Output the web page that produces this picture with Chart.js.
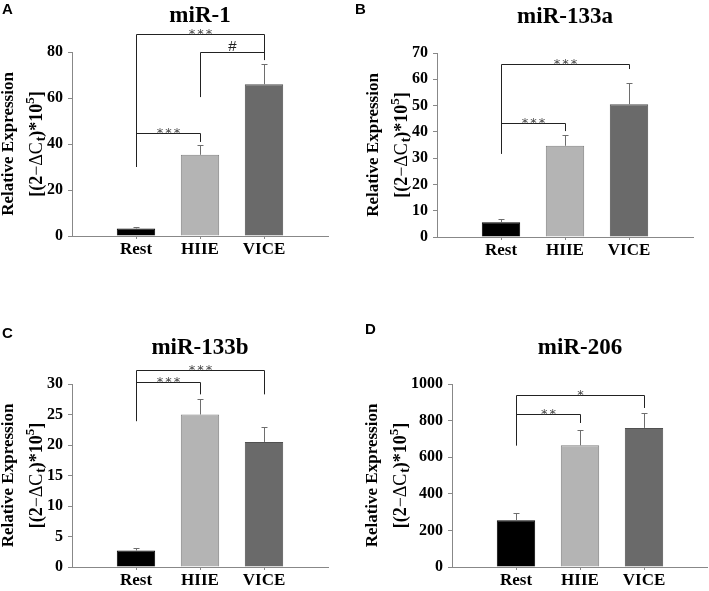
<!DOCTYPE html>
<html lang="en">
<head>
<meta charset="UTF-8">
<title>miRNA relative expression</title>
<script src="https://cdn.jsdelivr.net/npm/chart.js"></script>
<style>
  body { margin: 0; background: #fff; }
  #figure { position: relative; width: 709px; height: 591px; }
  .panel { position: absolute; width: 354px; height: 295px; }
</style>
</head>
<body>
<div id="figure">
  <div class="panel" style="left:0;top:0"><canvas id="chartA" width="354" height="295"></canvas></div>
  <div class="panel" style="left:354px;top:0"><canvas id="chartB" width="354" height="295"></canvas></div>
  <div class="panel" style="left:0;top:296px"><canvas id="chartC" width="354" height="295"></canvas></div>
  <div class="panel" style="left:354px;top:296px"><canvas id="chartD" width="354" height="295"></canvas></div>
</div>
<script>
// groups on the x axis (placed at 1, 2, 3 on a 0..4 axis)
const groups = ['Rest', 'HIIE', 'VICE'];
const groupPos = [1, 2, 3];

// mean and SEM
const mir1Mean = [3.3, 35.3, 66.0];
const mir1Sem = [0.8, 4.2, 8.6];
const mir133aMean = [5.6, 34.7, 50.5];
const mir133aSem = [1.1, 4.0, 8.0];
const mir133bMean = [2.7, 25.0, 20.5];
const mir133bSem = [0.4, 2.6, 2.4];
const mir206Mean = [255, 665, 760];
const mir206Sem = [38, 81, 79];

// y axis ticks
const mir1Ticks = [0, 20, 40, 60, 80];
const mir133aTicks = [0, 10, 20, 30, 40, 50, 60, 70];
const mir133bTicks = [0, 5, 10, 15, 20, 25, 30];
const mir206Ticks = [0, 200, 400, 600, 800, 1000];

// significance brackets: [from group, to group, top, from-leg bottom, to-leg bottom, mark]
const mir1Sig = [[0, 2, 87.8, 30, 76.5, '***'], [1, 2, 80, 60.4, 76.5, '#'], [0, 1, 44.8, 44.8, 40.9, '***']];
const mir133aSig = [[0, 2, 65.8, 31.6, 63.9, '***'], [0, 1, 43.5, 43.5, 40.3, '***']];
const mir133bSig = [[0, 2, 32.3, 23.9, 28.3, '***'], [0, 1, 30.4, 30.4, 28.3, '***']];
const mir206Sig = [[0, 2, 938, 663, 869, '*'], [0, 1, 836, 836, 787, '**']];

const barFill = ['#000000', '#b4b4b4', '#6a6a6a'];
const barEdge = ['#000000', '#808080', '#505050'];
const serif = '"Liberation Serif", "Times New Roman", serif';

// error bars, brackets, titles and the y axis title
const decor = {
  id: 'decor',
  afterDatasetsDraw(chart, args, o) {
    const ctx = chart.ctx, ys = chart.scales.y;
    const meta = chart.getDatasetMeta(0);
    ctx.save();
    ctx.strokeStyle = '#6e6e6e';
    ctx.lineWidth = 1;
    meta.data.forEach((bar, i) => {
      const x = Math.round(bar.x) + 0.5;
      const top = Math.round(ys.getPixelForValue(o.mean[i] + o.sem[i])) + 0.5;
      ctx.beginPath();
      ctx.moveTo(x, bar.y);
      ctx.lineTo(x, top);
      ctx.moveTo(x - 3, top);
      ctx.lineTo(x + 3, top);
      ctx.stroke();
    });
    ctx.restore();
  },
  afterDraw(chart, args, o) {
    const ctx = chart.ctx, xs = chart.scales.x, ys = chart.scales.y;
    const area = chart.chartArea;
    ctx.save();
    // brackets
    ctx.strokeStyle = '#222';
    ctx.lineWidth = 1;
    o.sig.forEach(s => {
      const x1 = Math.round(xs.getPixelForValue(groupPos[s[0]])) + 0.5;
      const x2 = Math.round(xs.getPixelForValue(groupPos[s[1]])) + 0.5;
      const yt = Math.round(ys.getPixelForValue(s[2])) + 0.5;
      ctx.beginPath();
      ctx.moveTo(x1, ys.getPixelForValue(s[3]));
      ctx.lineTo(x1, yt);
      ctx.lineTo(x2, yt);
      ctx.lineTo(x2, ys.getPixelForValue(s[4]));
      ctx.stroke();
      ctx.textAlign = 'center';
      ctx.textBaseline = 'alphabetic';
      const mid = (x1 + x2) / 2;
      if (s[5] === '#') {
        ctx.fillStyle = '#222';
        ctx.font = '15px "Liberation Sans", Arial, sans-serif';
        ctx.fillText(s[5], mid, yt - 1.5);
      } else {
        // asterisks drawn one by one, a little apart
        ctx.fillStyle = '#444';
        ctx.font = '13px "DejaVu Sans", sans-serif';
        const n = s[5].length;
        for (let k = 0; k < n; k++) {
          ctx.fillText('*', mid + (k - (n - 1) / 2) * 8.5, yt + 3);
        }
      }
    });
    // panel letter
    ctx.fillStyle = '#000';
    ctx.textAlign = 'left';
    ctx.font = 'bold 15px "Liberation Sans", Arial, sans-serif';
    ctx.fillText(o.letter, o.letterX, o.letterY);
    // panel title
    ctx.textAlign = 'center';
    ctx.font = 'bold 23px ' + serif;
    ctx.fillText(o.title, (area.left + area.right) / 2, area.top - 30);
    // y axis title, two rotated lines
    ctx.font = 'bold 16px ' + serif;
    let widest = 0;
    ys.ticks.forEach(t => { widest = Math.max(widest, ctx.measureText(String(t.value)).width); });
    const x2 = area.left - 9 - widest - 10;
    const x1 = x2 - 28.5;
    const cy = (area.top + area.bottom) / 2;
    ctx.font = 'bold 17px ' + serif;
    ctx.save();
    ctx.translate(x1, cy);
    ctx.rotate(-Math.PI / 2);
    ctx.textBaseline = 'middle';
    ctx.fillText('Relative Expression', 0, 0);
    ctx.restore();
    // second line with subscript t and superscript 5
    const parts = [['[(2', 18, 0], ['−ΔC', 18, 0], ['t', 14, 4], [')*10', 18, 0], ['5', 13, -6], [']', 18, 0]];
    let total = 0;
    parts.forEach(p => { ctx.font = 'bold ' + p[1] + 'px ' + serif; p.push(ctx.measureText(p[0]).width); total += p[3]; });
    ctx.save();
    ctx.translate(x2, cy);
    ctx.rotate(-Math.PI / 2);
    ctx.textAlign = 'left';
    ctx.textBaseline = 'middle';
    let px = -total / 2;
    parts.forEach(p => {
      ctx.font = (p[0] === '−ΔC' ? '' : 'bold ') + p[1] + 'px ' + serif;
      ctx.fillText(p[0], px, p[2]);
      px += p[3];
    });
    ctx.restore();
    ctx.restore();
  }
};

function makePanel(id, mean, sem, ticks, sig, title, letter, box) {
  const plotW = 256;
  return new Chart(document.getElementById(id), {
    type: 'bar',
    data: {
      datasets: [{
        data: groupPos.map((x, i) => ({ x: x, y: mean[i] })),
        backgroundColor: barFill,
        borderColor: barEdge,
        borderWidth: 1,
        barPercentage: 0.6,
        categoryPercentage: 1
      }]
    },
    options: {
      responsive: false,
      animation: false,
      layout: {
        padding: { left: 0, top: box.top, right: 354 - box.left - plotW, bottom: 295 - box.top - box.height - 20 }
      },
      scales: {
        x: {
          type: 'linear',
          min: 0,
          max: 4,
          offset: false,
          afterFit: s => { s.height = 20; },
          afterBuildTicks: s => { s.ticks = groupPos.map(v => ({ value: v })); },
          grid: { drawOnChartArea: false, offset: false, tickLength: 3, color: '#888' },
          border: { color: '#888' },
          ticks: {
            autoSkip: false,
            maxRotation: 0,
            padding: 0,
            color: '#000',
            font: { family: serif, size: 17, weight: 'bold' },
            callback: v => groups[groupPos.indexOf(v)]
          }
        },
        y: {
          min: ticks[0],
          max: ticks[ticks.length - 1],
          afterFit: s => { s.width = box.left; },
          afterBuildTicks: s => { s.ticks = ticks.map(v => ({ value: v })); },
          grid: { drawOnChartArea: false, tickLength: 4, color: '#888' },
          border: { color: '#888' },
          ticks: {
            padding: 5,
            color: '#000',
            font: { family: serif, size: 16, weight: 'bold' },
            callback: v => String(v)
          }
        }
      },
      plugins: {
        legend: { display: false },
        tooltip: { enabled: false },
        decor: { mean: mean, sem: sem, sig: sig, title: title, letter: letter.t, letterX: letter.x, letterY: letter.y }
      }
    },
    plugins: [decor]
  });
}

makePanel('chartA', mir1Mean, mir1Sem, mir1Ticks, mir1Sig, 'miR-1', { t: 'A', x: 2, y: 14 }, { left: 72, top: 52, height: 184 });
makePanel('chartB', mir133aMean, mir133aSem, mir133aTicks, mir133aSig, 'miR-133a', { t: 'B', x: 1, y: 14 }, { left: 83, top: 53, height: 184 });
makePanel('chartC', mir133bMean, mir133bSem, mir133bTicks, mir133bSig, 'miR-133b', { t: 'C', x: 2, y: 42 }, { left: 72, top: 88, height: 183 });
makePanel('chartD', mir206Mean, mir206Sem, mir206Ticks, mir206Sig, 'miR-206', { t: 'D', x: 11, y: 38 }, { left: 98, top: 88, height: 183 });
</script>
</body>
</html>
